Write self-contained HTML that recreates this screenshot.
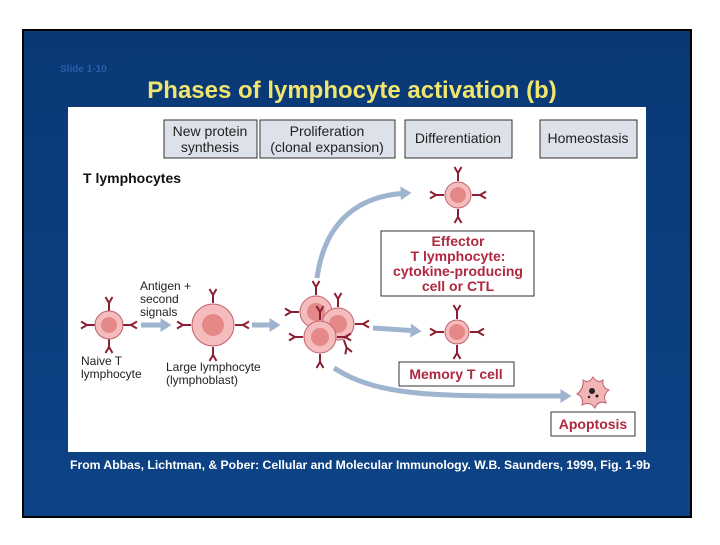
<!DOCTYPE html>
<html><head><style>
body{margin:0;width:720px;height:540px;background:#fff;overflow:hidden;font-family:"Liberation Sans",sans-serif}
</style></head><body>
<svg width="720" height="540" xmlns="http://www.w3.org/2000/svg" font-family="Liberation Sans, sans-serif">
<defs>
<linearGradient id="bg" x1="0" y1="0" x2="0" y2="1"><stop offset="0" stop-color="#0a3876"/><stop offset="1" stop-color="#0d4386"/></linearGradient>
<marker id="ah" markerWidth="4" markerHeight="4" refX="1.5" refY="2" orient="auto" markerUnits="strokeWidth"><path d="M0,0.6 L2.2,2 L0,3.4 Z" fill="#9fb4cf"/></marker>
<g id="rec"><path d="M0,-1 L0,-9 M0,-9 L-3.5,-15 M0,-9 L3.5,-15" stroke="#8a2035" stroke-width="2" fill="none"/></g>
</defs>
<rect x="23" y="30" width="668" height="487" fill="url(#bg)" stroke="#000" stroke-width="2"/>
<text x="60" y="72" font-size="10" font-weight="bold" fill="#2a5ca8">Slide 1-10</text>
<text x="352" y="98" font-size="24" font-weight="bold" fill="#f0e66e" text-anchor="middle">Phases of lymphocyte activation (b)</text>
<rect x="68" y="107" width="578" height="345" fill="#fff"/>
<g font-size="14" fill="#222" text-anchor="middle">
<rect x="164" y="120" width="93" height="38" fill="#dde1ea" stroke="#333"/>
<text x="210" y="136">New protein</text><text x="210" y="152">synthesis</text>
<rect x="260" y="120" width="135" height="38" fill="#dde1ea" stroke="#333"/>
<text x="327" y="136">Proliferation</text><text x="327" y="152">(clonal expansion)</text>
<rect x="405" y="120" width="107" height="38" fill="#dde1ea" stroke="#333"/>
<text x="458" y="143">Differentiation</text>
<rect x="540" y="120" width="97" height="38" fill="#dde1ea" stroke="#333"/>
<text x="588" y="143">Homeostasis</text>
</g>
<text x="83" y="183" font-size="14" font-weight="bold" fill="#111">T lymphocytes</text>
<g font-size="12" fill="#222">
<text x="140" y="290">Antigen +</text><text x="140" y="303">second</text><text x="140" y="316">signals</text>
<text x="81" y="365">Naive T</text><text x="81" y="378">lymphocyte</text>
<text x="166" y="371">Large lymphocyte</text><text x="166" y="384">(lymphoblast)</text>
</g>
<g fill="none" stroke="#9fb4cf" stroke-width="5" marker-end="url(#ah)">
<path d="M141,325 L168,325"/>
<path d="M252,325 L277,325"/>
<path d="M317,278 C325,220 360,195 408,193"/>
<path d="M373,328 L418,331"/>
<path d="M334,368 C380,398 440,396 568,396"/>
</g>
<g id="cells">
<g transform="translate(109,325)">
<use href="#rec" transform="rotate(0) translate(0,-13)"/><use href="#rec" transform="rotate(90) translate(0,-13)"/><use href="#rec" transform="rotate(180) translate(0,-13)"/><use href="#rec" transform="rotate(270) translate(0,-13)"/>
<circle r="14" fill="#f4bcbc" stroke="#c0606a"/><circle r="8" fill="#e48888"/></g>
<g transform="translate(213,325)">
<use href="#rec" transform="rotate(0) translate(0,-21)"/><use href="#rec" transform="rotate(90) translate(0,-21)"/><use href="#rec" transform="rotate(180) translate(0,-21)"/><use href="#rec" transform="rotate(270) translate(0,-21)"/>
<circle r="21" fill="#f4bcbc" stroke="#c0606a"/><circle r="11" fill="#e48888"/></g>
<g transform="translate(316,312)">
<use href="#rec" transform="rotate(0) translate(0,-16)"/><use href="#rec" transform="rotate(270) translate(0,-16)"/>
<circle r="16" fill="#f4bcbc" stroke="#c0606a"/><circle r="9" fill="#e48888"/></g>
<g transform="translate(338,324)">
<use href="#rec" transform="rotate(0) translate(0,-16)"/><use href="#rec" transform="rotate(90) translate(0,-16)"/><use href="#rec" transform="rotate(160) translate(0,-16)"/>
<circle r="16" fill="#f4bcbc" stroke="#c0606a"/><circle r="9" fill="#e48888"/></g>
<g transform="translate(320,337)">
<use href="#rec" transform="rotate(0) translate(0,-16)"/><use href="#rec" transform="rotate(90) translate(0,-16)"/><use href="#rec" transform="rotate(180) translate(0,-16)"/><use href="#rec" transform="rotate(270) translate(0,-16)"/>
<circle r="16" fill="#f4bcbc" stroke="#c0606a"/><circle r="9" fill="#e48888"/></g>
<g transform="translate(458,195)">
<use href="#rec" transform="rotate(0) translate(0,-13)"/><use href="#rec" transform="rotate(90) translate(0,-13)"/><use href="#rec" transform="rotate(180) translate(0,-13)"/><use href="#rec" transform="rotate(270) translate(0,-13)"/>
<circle r="13" fill="#f4bcbc" stroke="#c0606a"/><circle r="8" fill="#e48888"/></g>
<g transform="translate(457,332)">
<use href="#rec" transform="rotate(0) translate(0,-12)"/><use href="#rec" transform="rotate(90) translate(0,-12)"/><use href="#rec" transform="rotate(180) translate(0,-12)"/><use href="#rec" transform="rotate(270) translate(0,-12)"/>
<circle r="12" fill="#f4bcbc" stroke="#c0606a"/><circle r="8" fill="#e48888"/></g>
</g>
<g transform="translate(593,392)">
<path d="M-10,-12 Q-4,-8 0,-15 Q5,-8 10,-12 Q9,-4 16,-2 Q9,3 13,11 Q5,8 2,16 Q-3,9 -11,13 Q-9,5 -16,2 Q-9,-3 -10,-12 Z" fill="#f2b4b4" stroke="#c06070"/>
<circle cx="-1" cy="-1" r="3" fill="#222"/><circle cx="4" cy="4" r="1.5" fill="#222"/><circle cx="-4" cy="5" r="1.2" fill="#222"/>
</g>
<g font-size="14" font-weight="bold" fill="#b0283f" text-anchor="middle">
<rect x="381" y="231" width="153" height="65" fill="#fff" stroke="#333"/>
<text x="458" y="246">Effector</text><text x="458" y="261">T lymphocyte:</text><text x="458" y="276">cytokine-producing</text><text x="458" y="291">cell or CTL</text>
<rect x="399" y="362" width="115" height="24" fill="#fff" stroke="#333"/>
<text x="456" y="379">Memory T cell</text>
<rect x="551" y="412" width="84" height="24" fill="#fff" stroke="#333"/>
<text x="593" y="429">Apoptosis</text>
</g>
<text x="70" y="469" font-size="12.2" font-weight="bold" fill="#fff">From Abbas, Lichtman, &amp; Pober: Cellular and Molecular Immunology. W.B. Saunders, 1999, Fig. 1-9b</text>
</svg>
</body></html>
